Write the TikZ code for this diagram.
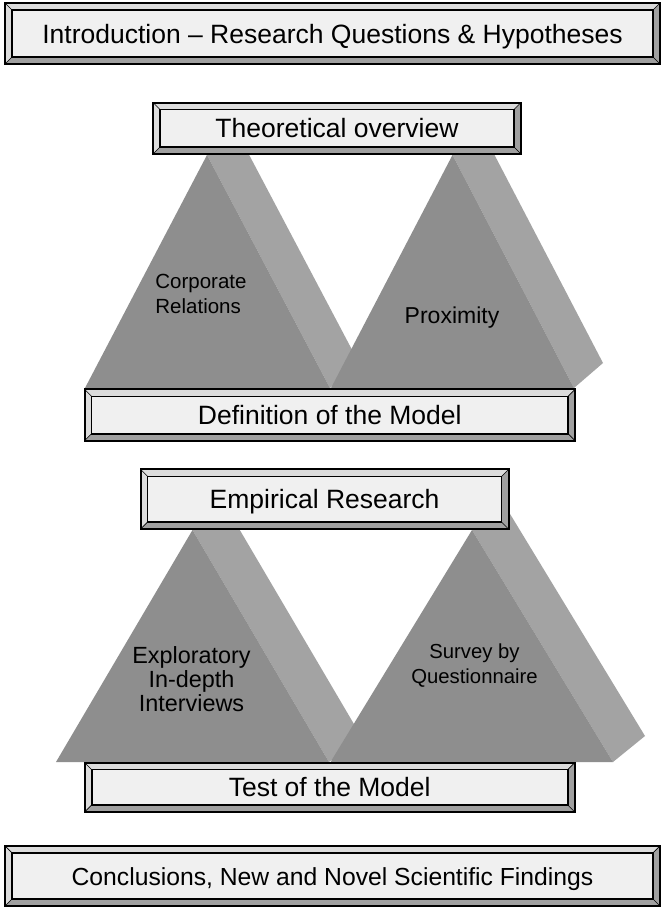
\documentclass[tikz,border=0pt]{standalone}
\usepackage{fontspec}
\setmainfont{Liberation Sans}
\usepackage{tikz}
\usetikzlibrary{calc}

\definecolor{boxfill}{HTML}{F0F0F0}
\definecolor{bevellight}{HTML}{DCDCDC}
\definecolor{beveldark}{HTML}{A0A0A0}
\definecolor{frontgray}{HTML}{8E8E8E}
\definecolor{sidegray}{HTML}{A3A3A3}
\newcommand{\bevw}{7pt}

\tikzset{
  framebox/.style={draw=black, line width=2pt, fill=boxfill, inner sep=0pt,
    font=\fontsize{26.5}{30}\selectfont, text height=19pt, text depth=0pt,
    path picture={
      \coordinate (sw) at (path picture bounding box.south west);
      \coordinate (ne) at (path picture bounding box.north east);
      \coordinate (nw) at (path picture bounding box.north west);
      \coordinate (se) at (path picture bounding box.south east);
      \fill[bevellight] (sw) -- (nw) -- (ne) -- ($(ne)+(-\bevw,-\bevw)$)
        -- ($(nw)+(\bevw,-\bevw)$) -- ($(sw)+(\bevw,\bevw)$) -- cycle; % 上と左の明るい面
      \fill[beveldark] (sw) -- (se) -- (ne) -- ($(ne)+(-\bevw,-\bevw)$)
        -- ($(se)+(-\bevw,\bevw)$) -- ($(sw)+(\bevw,\bevw)$) -- cycle; % 下と右の暗い面
      \draw[line width=0.6pt] (nw) -- ($(nw)+(\bevw,-\bevw)$) (ne) -- ($(ne)+(-\bevw,-\bevw)$)
        (sw) -- ($(sw)+(\bevw,\bevw)$) (se) -- ($(se)+(-\bevw,\bevw)$); % 四隅の斜めの継ぎ目
      \draw[line width=1.6pt] ($(sw)+(\bevw,\bevw)$) rectangle ($(ne)+(-\bevw,-\bevw)$); % 内側の枠線
    }},
  frontface/.style={fill=frontgray},
  sideface/.style={fill=sidegray},
  facelabel/.style={inner sep=0pt, text=black}
}

\begin{document}
\begin{tikzpicture}[x=1pt,y=-1pt]
  \useasboundingbox (0,0) rectangle (662,908); % 全体の大きさ
  \fill[white] (0,0) rectangle (662,908); % 白い背景

  \fill[sideface] (207,155) -- (236,130) -- (359,363) -- (330,388) -- cycle; % 上段左の三角柱の側面
  \fill[frontface] (207,155) -- (85,388) -- (330,388) -- cycle; % 上段左の三角柱の正面
  \fill[sideface] (452.5,155) -- (481.5,130) -- (603,363) -- (574,388) -- cycle; % 上段右の三角柱の側面
  \fill[frontface] (452.5,155) -- (331,388) -- (574,388) -- cycle; % 上段右の三角柱の正面

  \fill[sideface] (192.5,530) -- (224.5,504) -- (361,736) -- (329,762) -- cycle; % 下段左の三角柱の側面
  \fill[frontface] (192.5,530) -- (56,762) -- (329,762) -- cycle; % 下段左の三角柱の正面
  \fill[sideface] (472,530) -- (504,504) -- (645,736) -- (613,762) -- cycle; % 下段右の三角柱の側面
  \fill[frontface] (472,530) -- (330.5,762) -- (613,762) -- cycle; % 下段右の三角柱の正面

  \node[framebox, minimum width=655pt, minimum height=61pt] (intro) at (332.5,33.5)
    {Introduction – Research Questions \& Hypotheses}; % 最上段の見出し
  \node[framebox, minimum width=368pt, minimum height=51.5pt] (theory) at (337,128.3)
    {Theoretical overview}; % 理論編の見出し
  \node[framebox, minimum width=490.5pt, minimum height=51.4pt] (define) at (329.8,415)
    {Definition of the Model}; % 上段の台
  \node[framebox, minimum width=368pt, minimum height=59.7pt] (empir) at (324.6,499.2)
    {Empirical Research}; % 実証編の見出し
  \node[framebox, minimum width=490pt, minimum height=49.3pt] (test) at (329.7,787.3)
    {Test of the Model}; % 下段の台
  \node[framebox, minimum width=654.6pt, minimum height=59.7pt, font=\fontsize{24.7}{28}\selectfont]
    (concl) at (332.5,875.9) {Conclusions, New and Novel Scientific Findings}; % 最下段の結論

  \node[facelabel, align=left, font=\fontsize{20.5}{25}\selectfont] (corp) at (201,294)
    {Corporate\\Relations}; % 左の三角柱の文字
  \node[facelabel, font=\fontsize{23}{27}\selectfont] (prox) at (452,318) {Proximity}; % 右の三角柱の文字
  \node[facelabel, align=center, font=\fontsize{23.4}{24}\selectfont] (explor) at (191.5,679)
    {Exploratory\\In-depth\\Interviews}; % 下段左の文字
  \node[facelabel, align=center, font=\fontsize{20.3}{25}\selectfont] (survey) at (474.5,666)
    {Survey by\\Questionnaire}; % 下段右の文字
\end{tikzpicture}
\end{document}
